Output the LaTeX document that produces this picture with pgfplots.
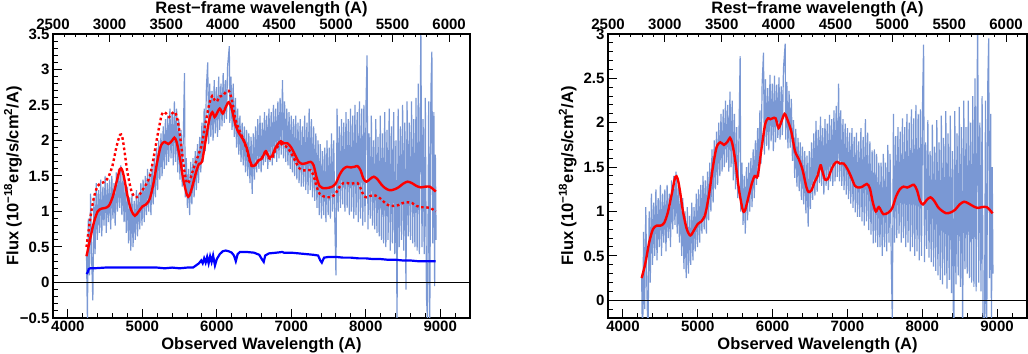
\documentclass[border=0pt]{standalone}
\usepackage{fontspec}
\setmainfont{Liberation Sans}
\usepackage{pgfplots}
\usepackage{pgfplotstable}
\pgfplotsset{compat=1.18}

\definecolor{specblue}{RGB}{122,152,212}
\definecolor{fitred}{RGB}{255,0,0}
\definecolor{hostblue}{RGB}{0,0,255}

\newcommand{\lbl}{\fontsize{16.5bp}{19bp}\selectfont\bfseries}
\newcommand{\tlbl}{\fontsize{15bp}{17bp}\selectfont\bfseries}

% observed spectrum: lam, flux (left), flux minus host (right)
\pgfplotstableread{
lam fl fr
4250 0.40 0.27
4262 -0.50 -0.63
4275 0.90 0.77
4290 0.10 -0.10
4305 1.25 1.05
4320 0.30 0.10
4335 -0.25 -0.45
4350 1.20 1.00
4365 0.40 0.20
4380 1.40 1.20
4395 0.60 0.40
4410 1.30 1.10
4425 0.70 0.50
4440 1.45 1.25
4455 0.65 0.45
4470 1.35 1.15
4485 0.80 0.60
4500 1.50 1.30
4515 0.70 0.50
4530 1.40 1.20
4545 0.85 0.65
4560 1.45 1.25
4575 0.75 0.55
4590 1.50 1.30
4605 0.90 0.70
4620 1.40 1.20
4635 0.80 0.60
4650 1.55 1.35
4665 1.00 0.80
4680 1.60 1.40
4695 1.05 0.85
4710 1.65 1.45
4725 0.95 0.75
4740 1.50 1.30
4755 0.85 0.65
4770 1.40 1.20
4785 0.70 0.50
4800 1.35 1.15
4815 0.55 0.35
4830 1.20 1.00
4845 0.45 0.25
4860 1.25 1.05
4875 0.50 0.30
4890 1.15 0.95
4905 0.60 0.40
4920 1.30 1.10
4935 0.65 0.45
4950 1.25 1.05
4965 0.75 0.55
4980 1.40 1.20
4995 0.80 0.60
5010 1.45 1.25
5025 0.85 0.65
5040 1.50 1.30
5055 0.95 0.75
5070 1.60 1.40
5085 1.00 0.80
5100 1.55 1.35
5115 0.95 0.75
5130 1.65 1.45
5145 1.10 0.90
5160 1.75 1.55
5175 1.20 1.00
5190 1.90 1.70
5205 1.30 1.10
5220 2.00 1.80
5235 1.45 1.25
5250 2.10 1.90
5265 1.50 1.30
5280 2.20 2.00
5295 1.60 1.40
5310 2.30 2.10
5325 1.65 1.45
5340 2.35 2.15
5355 1.70 1.50
5370 2.45 2.25
5385 1.75 1.55
5400 2.40 2.20
5415 1.65 1.45
5430 2.55 2.35
5445 1.70 1.50
5460 2.45 2.25
5475 1.55 1.35
5490 2.30 2.10
5505 1.45 1.25
5520 2.15 1.95
5535 1.35 1.15
5550 2.05 1.85
5566 2.95 2.75
5575 1.20 1.00
5590 1.75 1.55
5605 1.05 0.85
5620 1.60 1.40
5635 0.95 0.75
5650 1.70 1.50
5665 1.10 0.90
5680 1.75 1.55
5695 1.20 1.00
5710 1.85 1.60
5725 1.30 1.05
5740 1.95 1.70
5755 1.40 1.15
5770 2.05 1.80
5785 1.55 1.30
5800 2.25 1.94
5815 1.70 1.39
5830 2.45 2.14
5845 1.85 1.54
5860 2.75 2.44
5878 3.10 2.79
5890 1.95 1.64
5905 2.80 2.49
5920 2.05 1.74
5935 2.70 2.39
5950 2.00 1.69
5965 2.85 2.54
5980 2.10 1.79
5995 2.75 2.44
6010 2.05 1.68
6025 2.90 2.53
6040 2.15 1.78
6055 2.80 2.43
6070 2.20 1.83
6085 2.95 2.51
6100 2.25 1.81
6115 2.85 2.41
6130 2.30 1.86
6145 3.05 2.61
6168 3.33 2.89
6175 2.25 1.81
6190 2.90 2.46
6205 2.15 1.71
6220 2.80 2.36
6235 2.05 1.72
6250 2.60 2.27
6265 1.90 1.57
6280 2.45 2.03
6295 1.80 1.38
6310 2.35 1.93
6325 1.70 1.28
6340 2.25 1.83
6355 1.65 1.23
6370 2.20 1.78
6385 1.55 1.13
6400 2.15 1.73
6415 1.50 1.08
6430 2.10 1.68
6445 1.40 0.98
6460 2.05 1.63
6475 1.25 0.83
6490 2.10 1.68
6505 1.45 1.03
6520 2.20 1.78
6535 1.55 1.13
6550 2.30 1.88
6565 1.60 1.18
6580 2.35 2.02
6595 1.55 1.22
6610 2.25 1.92
6625 1.65 1.32
6640 2.40 2.07
6655 1.70 1.29
6670 2.35 1.94
6685 1.60 1.19
6700 2.45 2.04
6715 1.70 1.29
6730 2.40 1.99
6745 1.65 1.24
6760 2.50 2.09
6775 1.75 1.34
6790 2.45 2.04
6805 1.70 1.29
6820 2.55 2.14
6835 1.75 1.34
6850 2.60 2.19
6865 1.80 1.39
6882 2.85 2.44
6895 1.75 1.34
6910 2.55 2.14
6925 1.70 1.29
6940 2.45 2.04
6955 1.65 1.24
6970 2.40 1.99
6985 1.60 1.19
7000 2.35 1.94
7015 1.55 1.14
7030 2.30 1.89
7045 1.50 1.09
7060 2.35 1.94
7075 1.45 1.04
7090 2.25 1.84
7105 1.40 0.99
7120 2.30 1.89
7135 1.35 0.94
7150 2.20 1.79
7165 1.35 0.94
7180 2.35 1.94
7195 1.30 0.89
7210 2.25 1.84
7225 1.25 0.84
7240 2.45 2.04
7255 1.30 0.89
7270 2.30 1.89
7285 1.20 0.79
7300 2.20 1.79
7315 1.15 0.74
7330 2.10 1.69
7345 1.05 0.64
7360 2.00 1.70
7375 0.95 0.65
7390 1.95 1.65
7405 0.90 0.60
7420 1.85 1.55
7435 0.95 0.60
7450 1.90 1.55
7465 0.85 0.50
7480 2.00 1.65
7495 0.95 0.60
7510 1.90 1.55
7525 0.90 0.55
7540 2.10 1.75
7555 1.00 0.65
7570 2.00 1.65
7585 0.85 0.50
7600 0.10 -0.25
7615 2.45 2.10
7630 1.00 0.65
7645 2.20 1.85
7660 1.05 0.70
7675 2.30 1.95
7690 1.10 0.75
7705 2.25 1.90
7720 1.00 0.65
7735 2.40 2.05
7750 1.05 0.70
7765 2.30 1.95
7780 0.95 0.60
7795 2.45 2.10
7810 1.00 0.65
7825 2.35 2.00
7840 0.90 0.55
7855 2.50 2.15
7870 0.95 0.60
7885 2.40 2.05
7900 0.85 0.50
7915 2.55 2.20
7930 0.90 0.55
7945 2.45 2.10
7960 0.80 0.45
7975 2.50 2.15
7990 0.85 0.50
8005 2.60 2.28
8018 3.20 2.88
8030 0.75 0.43
8045 2.10 1.78
8060 0.90 0.58
8075 2.35 2.03
8090 0.80 0.48
8105 2.00 1.68
8120 0.75 0.43
8135 2.30 1.98
8150 0.70 0.38
8165 2.05 1.73
8180 0.65 0.33
8195 2.35 2.03
8210 0.60 0.28
8225 2.10 1.78
8240 0.55 0.23
8255 2.40 2.08
8270 0.50 0.18
8285 2.15 1.83
8300 0.60 0.28
8315 2.45 2.13
8330 0.45 0.13
8345 2.20 1.88
8360 0.55 0.23
8375 2.40 2.08
8390 0.40 0.08
8405 2.00 1.68
8420 -0.55 -0.87
8435 2.45 2.13
8450 0.50 0.18
8465 2.20 1.88
8480 0.60 0.28
8495 2.50 2.18
8510 0.45 0.15
8525 2.25 1.95
8540 -0.10 -0.40
8555 2.55 2.25
8570 0.65 0.35
8585 2.25 1.95
8600 0.60 0.30
8615 2.55 2.25
8630 0.55 0.25
8645 2.30 2.00
8660 0.50 0.20
8675 2.60 2.30
8690 0.45 0.15
8705 2.80 2.50
8720 0.40 0.10
8740 3.60 3.30
8755 0.50 0.20
8770 2.30 2.00
8785 0.40 0.10
8800 2.60 2.30
8815 -0.20 -0.50
8830 -0.55 -0.85
8845 2.55 2.25
8860 -0.55 -0.85
8875 2.70 2.40
8888 3.25 2.95
8900 0.55 0.25
8915 2.40 2.10
8925 -0.05 -0.35
8935 1.80 1.50
8945 0.60 0.30
}\spec

% total model (left) and model minus host (right)
\pgfplotstableread{
lam fl fr
4250 0.37 0.25
4300 0.62 0.42
4350 0.85 0.65
4400 1.00 0.80
4450 1.04 0.84
4500 1.05 0.84
4550 1.08 0.87
4600 1.20 0.99
4650 1.40 1.19
4700 1.60 1.39
4730 1.58 1.37
4760 1.45 1.24
4800 1.22 1.01
4850 1.02 0.81
4900 0.94 0.73
4950 1.00 0.79
5000 1.07 0.86
5050 1.10 0.89
5100 1.18 0.97
5150 1.40 1.19
5200 1.70 1.49
5250 1.93 1.72
5300 1.98 1.78
5350 1.95 1.75
5400 2.00 1.79
5430 2.04 1.83
5460 1.98 1.77
5500 1.78 1.58
5550 1.45 1.25
5600 1.23 1.02
5630 1.22 1.01
5670 1.35 1.14
5720 1.55 1.31
5760 1.67 1.40
5800 1.70 1.40
5850 2.00 1.70
5900 2.30 1.98
5940 2.40 2.05
5970 2.33 2.04
6000 2.38 2.05
6040 2.45 2.05
6080 2.38 1.94
6120 2.47 2.02
6160 2.54 2.10
6200 2.45 2.03
6250 2.22 1.90
6300 2.10 1.68
6350 2.02 1.59
6400 1.90 1.47
6450 1.70 1.28
6480 1.64 1.22
6520 1.66 1.24
6560 1.72 1.33
6600 1.74 1.40
6640 1.82 1.52
6660 1.85 1.47
6700 1.77 1.36
6740 1.78 1.37
6780 1.88 1.46
6820 1.95 1.53
6860 1.99 1.56
6900 1.96 1.54
6950 1.96 1.54
7000 1.90 1.48
7050 1.80 1.39
7100 1.70 1.29
7150 1.67 1.27
7200 1.68 1.28
7260 1.70 1.31
7300 1.65 1.26
7340 1.48 1.10
7380 1.36 1.00
7420 1.33 1.05
7480 1.33 0.97
7550 1.35 0.99
7600 1.40 1.04
7650 1.52 1.17
7700 1.60 1.25
7750 1.63 1.28
7800 1.62 1.27
7850 1.63 1.29
7890 1.64 1.30
7930 1.58 1.24
7970 1.46 1.12
8010 1.42 1.08
8060 1.46 1.13
8110 1.49 1.16
8160 1.45 1.12
8210 1.38 1.05
8260 1.33 1.01
8320 1.30 0.98
8380 1.31 0.99
8440 1.34 1.02
8500 1.39 1.08
8560 1.42 1.11
8620 1.40 1.09
8680 1.36 1.06
8740 1.34 1.04
8800 1.35 1.05
8860 1.35 1.05
8900 1.32 1.02
8940 1.28 0.98
}\fit

% second model (dotted, left panel only)
\pgfplotstableread{
lam f
4250 0.50
4300 0.90
4350 1.20
4400 1.36
4450 1.40
4500 1.42
4550 1.50
4600 1.65
4650 1.90
4700 2.08
4730 2.05
4760 1.85
4800 1.55
4850 1.30
4900 1.20
4950 1.22
5000 1.30
5050 1.38
5100 1.50
5150 1.75
5200 2.05
5250 2.32
5280 2.40
5320 2.38
5360 2.33
5400 2.38
5440 2.40
5480 2.25
5520 1.95
5560 1.60
5600 1.40
5640 1.45
5680 1.58
5720 1.70
5760 1.82
5800 1.95
5850 2.25
5900 2.52
5940 2.63
5970 2.57
6000 2.55
6040 2.62
6080 2.63
6120 2.68
6160 2.70
6200 2.58
6250 2.30
6300 2.15
6350 2.03
6400 1.88
6450 1.68
6480 1.63
6520 1.66
6560 1.72
6600 1.74
6640 1.82
6660 1.85
6700 1.75
6740 1.75
6780 1.85
6820 1.92
6860 1.95
6900 1.93
6950 1.90
7000 1.82
7050 1.72
7100 1.62
7150 1.58
7200 1.58
7260 1.58
7300 1.50
7340 1.35
7380 1.25
7420 1.22
7480 1.20
7550 1.21
7600 1.26
7650 1.35
7700 1.40
7750 1.40
7800 1.39
7850 1.40
7890 1.40
7930 1.33
7970 1.23
8010 1.20
8060 1.22
8110 1.23
8160 1.21
8210 1.17
8260 1.12
8320 1.08
8380 1.08
8440 1.09
8500 1.12
8560 1.13
8620 1.12
8680 1.08
8740 1.06
8800 1.06
8860 1.05
8900 1.03
8940 1.00
}\dotfit

% host galaxy component
\pgfplotstableread{
lam f
4250 0.12
4265 0.14
4280 0.19
4300 0.20
4350 0.20
4500 0.21
4700 0.21
4900 0.21
5000 0.21
5200 0.21
5300 0.20
5400 0.21
5500 0.20
5600 0.21
5680 0.21
5720 0.24
5760 0.27
5790 0.31
5810 0.27
5830 0.34
5850 0.28
5870 0.36
5890 0.27
5910 0.37
5930 0.29
5950 0.38
5975 0.24
6000 0.33
6040 0.40
6080 0.44
6120 0.45
6160 0.44
6200 0.42
6230 0.38
6255 0.30
6280 0.40
6310 0.43
6400 0.43
6500 0.42
6570 0.39
6610 0.32
6630 0.29
6650 0.38
6700 0.41
6800 0.42
6880 0.43
6900 0.42
7000 0.42
7100 0.41
7200 0.40
7300 0.39
7360 0.38
7390 0.31
7410 0.28
7440 0.35
7500 0.36
7600 0.36
7700 0.35
7800 0.35
7900 0.34
8000 0.34
8100 0.33
8200 0.33
8300 0.32
8400 0.32
8500 0.31
8600 0.31
8700 0.30
8800 0.30
8940 0.30
}\host

\pgfplotsset{
  panel/.style={
    scale only axis, anchor=south west, height=284bp,
    xmin=3800, xmax=9400,
    axis line style={line width=1.2bp},
    tick align=inside, xtick pos=left, ytick pos=left,
    xtick={4000,5000,...,9000}, minor xtick={3800,4000,...,9400},
    major tick length=9bp, minor tick length=4.5bp,
    tick style={black, line width=1bp},
    /pgf/number format/assume math mode=true,
    /pgf/number format/1000 sep={},
    tick label style={font=\tlbl},
    label style={font=\lbl},
    xlabel={Observed Wavelength (A)},
    ylabel={Flux (10\textsuperscript{−18}erg/s/cm\textsuperscript{2}/A)},
    xlabel style={at={(axis description cs:0.5,0)}, anchor=base, yshift=-32bp},
    ylabel style={at={(axis description cs:-0.096,0.5)}, anchor=center},
    clip=true,
  },
  toppanel/.style={
    scale only axis, anchor=south west, height=284bp,
    xmin=2500, xmax=6184.2, ymin=0, ymax=1,
    axis x line*=top, hide y axis,
    axis line style={line width=1.2bp},
    tick align=inside,
    xtick={2500,3000,...,6000}, minor xtick={2500,2600,...,6100},
    major tick length=8bp, minor tick length=3.5bp,
    tick style={black, line width=1bp},
    /pgf/number format/assume math mode=true,
    /pgf/number format/1000 sep={},
    tick label style={font=\tlbl},
    xticklabel style={anchor=base, yshift=4bp},
    label style={font=\lbl},
    xlabel={Rest−frame wavelength (A)},
    xlabel style={at={(axis description cs:0.5,1)}, anchor=base, yshift=20bp},
  },
}

\begin{document}
\begin{tikzpicture}
\path[use as bounding box] (0,0) rectangle (1028bp,354bp);

% left panel
\begin{axis}[panel, at={(53bp,36bp)}, width=417bp,
  ymin=-0.5, ymax=3.5,
  ytick={-0.5,0,0.5,1,1.5,2,2.5,3,3.5},
  yticklabels={−0.5,0,0.5,1,1.5,2,2.5,3,3.5},
  minor ytick={-0.4,-0.3,...,3.45}]
\addplot[specblue, line width=1.2bp] table[x=lam, y=fl] {\spec};
\addplot[black, line width=0.8bp] coordinates {(3800,0) (9400,0)};
\addplot[hostblue, line width=2.2bp] table[x=lam, y=f] {\host};
\addplot[fitred, line width=2.4bp, dash pattern=on 2.6bp off 2.6bp, smooth] table[x=lam, y=f] {\dotfit};
\addplot[fitred, line width=2.4bp, smooth] table[x=lam, y=fl] {\fit};
\end{axis}
\begin{axis}[toppanel, at={(53bp,36bp)}, width=417bp]
\end{axis}

% right panel
\begin{axis}[panel, at={(608bp,36bp)}, width=419bp,
  ymin=-0.2, ymax=3,
  ytick={0,0.5,1,1.5,2,2.5,3},
  yticklabels={0,0.5,1,1.5,2,2.5,3},
  minor ytick={-0.1,0,...,2.95}]
\addplot[specblue, line width=1.2bp] table[x=lam, y=fr] {\spec};
\addplot[black, line width=0.8bp] coordinates {(3800,0) (9400,0)};
\addplot[fitred, line width=2.4bp, smooth] table[x=lam, y=fr] {\fit};
\end{axis}
\begin{axis}[toppanel, at={(608bp,36bp)}, width=419bp]
\end{axis}
\end{tikzpicture}
\end{document}
